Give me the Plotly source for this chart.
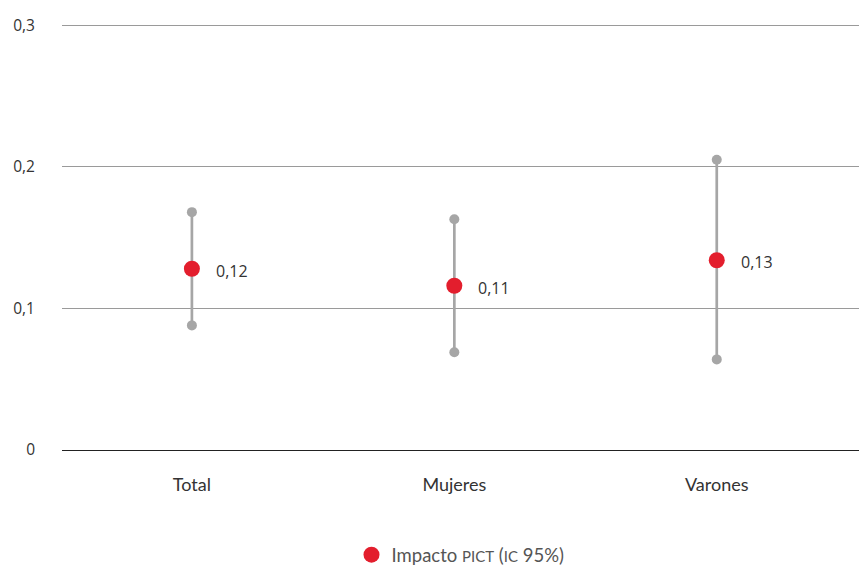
import math
import plotly.graph_objects as go

# Estimated PICT impact with 95% confidence interval, by group
categories = ["Total", "Mujeres", "Varones"]
impacto = [0.128, 0.116, 0.134]
ic_inferior = [0.088, 0.069, 0.064]
ic_superior = [0.168, 0.163, 0.205]

y_tick_vals = [0, 0.1, 0.2, 0.3]
y_tick_text = ["0", "0,1", "0,2", "0,3"]

RED = "#E31E2D"
GREY = "#A6A6A6"

x_idx = list(range(len(categories)))

# confidence interval segments, with None separators between groups
ci_x, ci_y = [], []
for i, lo, hi in zip(x_idx, ic_inferior, ic_superior):
    ci_x += [i, i, None]
    ci_y += [lo, hi, None]

fig = go.Figure()
fig.add_trace(go.Scatter(
    x=ci_x, y=ci_y, mode="lines+markers",
    line=dict(color=GREY, width=2.7),
    marker=dict(color=GREY, size=10),
    showlegend=False, hoverinfo="skip",
))
fig.add_trace(go.Scatter(
    x=x_idx, y=impacto, mode="markers",
    marker=dict(color=RED, size=16),
    name="Impacto <span style='font-size:15px'>PICT</span> (<span style='font-size:15px'>IC</span> 95%)",
))

# value labels, truncated to two decimals with a decimal comma
for i, v in zip(x_idx, impacto):
    label = f"{math.floor(v * 100 + 1e-9) / 100:.2f}".replace(".", ",")
    fig.add_annotation(
        x=i, y=v, text=label, showarrow=False,
        xanchor="left", yanchor="middle", xshift=22, yshift=-2,
        font=dict(family="Open Sans", size=16, color="#333333"),
    )

# plot height 429.5 px for 0..0.303  ->  0.3 sits ~4 px below the top edge
fig.update_layout(
    width=859, height=566,
    margin=dict(l=62, r=0, t=21, b=115.5, autoexpand=False),
    paper_bgcolor="white", plot_bgcolor="white",
    showlegend=True,
    legend=dict(
        orientation="h", x=0.5, xanchor="center", y=-0.245, yanchor="middle",
        itemwidth=30,
        font=dict(family="Lato", size=18.5, color="#555555"),
    ),
    separators=",.",
)
fig.update_xaxes(
    range=[-0.495, 2.542],
    tickvals=x_idx, ticktext=categories,
    showgrid=False, zeroline=False, showline=False,
    ticks="", ticklabelstandoff=22,
    tickfont=dict(family="Lato", size=18, color="#333333"),
)
fig.update_yaxes(
    range=[0, 0.303],
    tickvals=y_tick_vals, ticktext=y_tick_text,
    showgrid=True, gridcolor="#9A9A9A", gridwidth=1,
    zeroline=True, zerolinecolor="#222222", zerolinewidth=1.3,
    showline=False, ticks="", ticklabelstandoff=26,
    tickfont=dict(family="Open Sans", size=15.5, color="#333333"),
)

fig.write_html("out.html")
